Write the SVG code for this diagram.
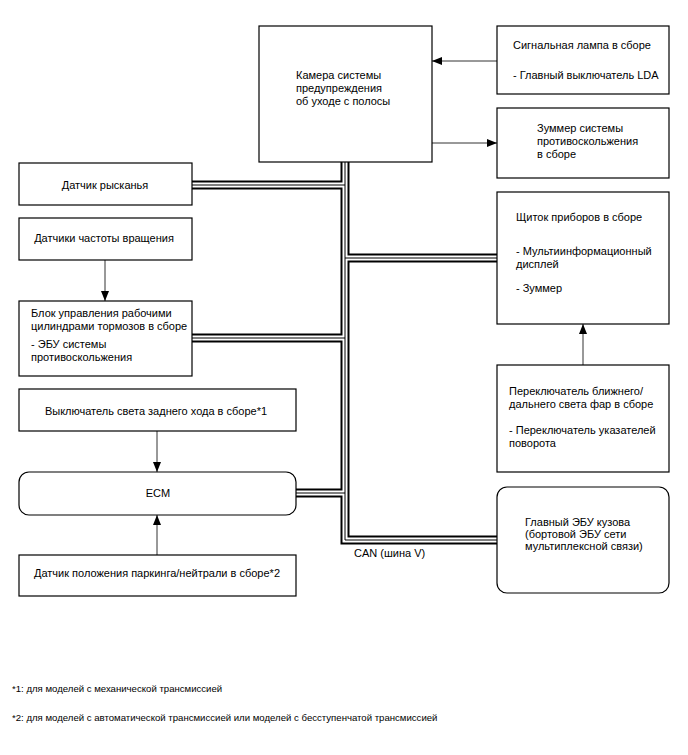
<svg xmlns="http://www.w3.org/2000/svg" width="688" height="755" viewBox="0 0 688 755">
<style>
.box{fill:#fff;stroke:#000;stroke-width:1.2}
.t{font-family:"Liberation Sans",Arial,sans-serif;font-size:11px;fill:#000}
.c{text-anchor:middle}
.fn{font-size:9.6px}
.arr{fill:none;stroke:#333;stroke-width:1}
.b1{fill:none;stroke:#000;stroke-width:9;stroke-linejoin:miter;stroke-linecap:butt}
.b2{fill:none;stroke:#fff;stroke-width:5;stroke-linejoin:miter;stroke-linecap:butt}
.b3{fill:none;stroke:#000;stroke-width:1;stroke-linejoin:miter;stroke-linecap:butt}
</style>
<defs>
<marker id="ah" viewBox="0 0 10 8" refX="10" refY="4" markerWidth="10" markerHeight="8" markerUnits="userSpaceOnUse" orient="auto">
<path d="M0,0 L10,4 L0,8 z" fill="#000"/>
</marker>
</defs>
<rect width="688" height="755" fill="#fff"/>
<g id="connectors">
<g id="can-bus">
<path class="b1" d="M345,162 V540 H497 M192,185 H345 M192,338 H345 M296,493 H345 M345,258 H497"/>
<path class="b2" d="M345,162 V540 H497 M192,185 H345 M192,338 H345 M296,493 H345 M345,258 H497"/>
<path class="b3" d="M345,162 V540 H497 M192,185 H345 M192,338 H345 M296,493 H345 M345,258 H497"/>
</g>
<path class="arr" d="M497,61 H432" marker-end="url(#ah)"/>
<path class="arr" d="M432,143 H497" marker-end="url(#ah)"/>
<path class="arr" d="M105,260 V301" marker-end="url(#ah)"/>
<path class="arr" d="M157,431 V472" marker-end="url(#ah)"/>
<path class="arr" d="M157,555 V515" marker-end="url(#ah)"/>
<path class="arr" d="M583,365 V324" marker-end="url(#ah)"/>
</g>
<g id="camera">
<rect class="box" x="259" y="26" width="173" height="136"/>
<text class="t" x="296" y="79">Камера системы</text>
<text class="t" x="296" y="92">предупреждения</text>
<text class="t" x="296" y="105">об уходе с полосы</text>
</g>
<g id="lamp">
<rect class="box" x="497" y="26" width="172" height="68"/>
<text class="t" x="513" y="49">Сигнальная лампа в сборе</text>
<text class="t" x="513" y="79">- Главный выключатель LDA</text>
</g>
<g id="buzzer">
<rect class="box" x="497" y="108" width="172" height="70"/>
<text class="t" x="537" y="132">Зуммер системы</text>
<text class="t" x="537" y="145">противоскольжения</text>
<text class="t" x="537" y="158">в сборе</text>
</g>
<g id="yaw">
<rect class="box" x="19" y="163" width="173" height="42"/>
<text class="t c" x="105" y="189">Датчик рысканья</text>
</g>
<g id="speed">
<rect class="box" x="19" y="218" width="173" height="42"/>
<text class="t c" x="104" y="242">Датчики частоты вращения</text>
</g>
<g id="brake">
<rect class="box" x="19" y="301" width="173" height="75"/>
<text class="t" x="31" y="317">Блок управления рабочими</text>
<text class="t" x="31" y="330">цилиндрами тормозов в сборе</text>
<text class="t" x="31" y="348">- ЭБУ системы</text>
<text class="t" x="31" y="361">противоскольжения</text>
</g>
<g id="backup">
<rect class="box" x="19" y="389" width="277" height="42"/>
<text class="t c" x="156" y="415">Выключатель света заднего хода в сборе*1</text>
</g>
<g id="ecm">
<rect class="box" x="19" y="472" width="277" height="43" rx="10" ry="10"/>
<text class="t c" x="158" y="497">ECM</text>
</g>
<g id="pnp">
<rect class="box" x="19" y="555" width="277" height="41"/>
<text class="t c" x="157" y="577">Датчик положения паркинга/нейтрали в сборе*2</text>
</g>
<g id="cluster">
<rect class="box" x="497" y="192" width="172" height="132"/>
<text class="t" x="516" y="221">Щиток приборов в сборе</text>
<text class="t" x="516" y="255">- Мультиинформационный</text>
<text class="t" x="516" y="268">дисплей</text>
<text class="t" x="516" y="292">- Зуммер</text>
</g>
<g id="headlight">
<rect class="box" x="497" y="365" width="172" height="107"/>
<text class="t" x="509" y="395">Переключатель ближнего/</text>
<text class="t" x="509" y="408">дальнего света фар в сборе</text>
<text class="t" x="509" y="434">- Переключатель указателей</text>
<text class="t" x="509" y="447">поворота</text>
</g>
<g id="body-ecu">
<rect class="box" x="497" y="487" width="172" height="106" rx="10" ry="10"/>
<text class="t" x="525" y="526">Главный ЭБУ кузова</text>
<text class="t" x="525" y="538">(бортовой ЭБУ сети</text>
<text class="t" x="525" y="550">мультиплексной связи)</text>
</g>
<g id="labels">
<text class="t" x="354" y="557">CAN (шина V)</text>
<text class="t fn" x="12" y="692">*1: для моделей с механической трансмиссией</text>
<text class="t fn" x="12" y="721">*2: для моделей с автоматической трансмиссией или моделей с бесступенчатой трансмиссией</text>
</g>
</svg>
